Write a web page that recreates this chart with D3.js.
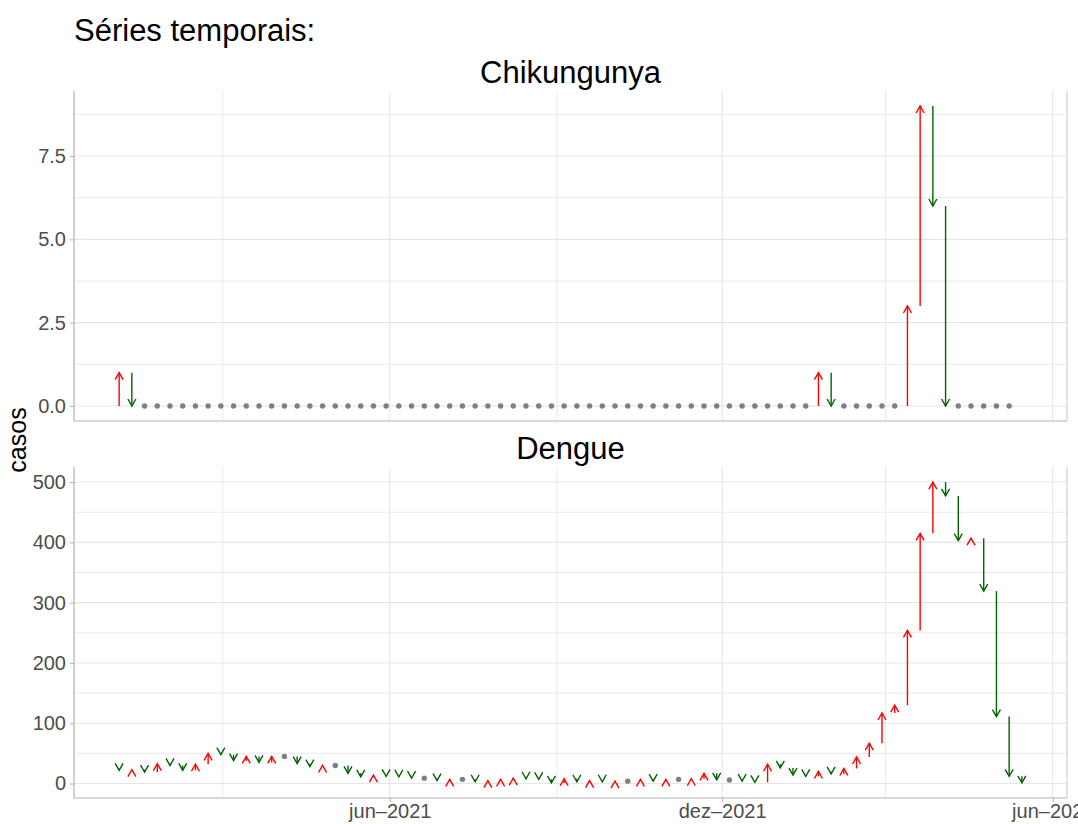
<!DOCTYPE html>
<html>
<head>
<meta charset="utf-8">
<script src="https://cdn.jsdelivr.net/npm/d3@7"></script>
<style>
body { margin: 0; background: #fff; }
text { font-family: "Liberation Sans", Arial, sans-serif; }
</style>
</head>
<body>
<div id="chart"></div>
<script>
// weekly series, first week starts 2021-01-03
var firstWeek = "2021-01-03";

// value of the week before the first plotted one, then one value per week
var chikPrev = 0;
var chikCases = [
  1, 0, 0, 0, 0, 0, 0, 0, 0, 0,
  0, 0, 0, 0, 0, 0, 0, 0, 0, 0,
  0, 0, 0, 0, 0, 0, 0, 0, 0, 0,
  0, 0, 0, 0, 0, 0, 0, 0, 0, 0,
  0, 0, 0, 0, 0, 0, 0, 0, 0, 0,
  0, 0, 0, 0, 0, 1, 0, 0, 0, 0,
  0, 0, 3, 9, 6, 0, 0, 0, 0, 0,
  0
];

var dengPrev = 25;
var dengCases = [
  22, 23, 19, 33, 30, 22, 32, 50, 48, 38,
  45, 35, 45, 45, 33, 28, 30, 30, 17, 11,
  14, 12, 11, 9, 9, 5, 7, 7, 3, 5,
  7, 9, 8, 7, 1, 8, 3, 5, 3, 4,
  4, 7, 4, 7, 7, 8, 17, 6, 6, 4,
  2, 32, 26, 14, 12, 20, 16, 25, 44, 67,
  117, 130, 254, 415, 500, 477, 403, 407, 319, 111,
  12, 1
];

var chikBreaks = [0, 2.5, 5, 7.5];
var dengBreaks = [0, 100, 200, 300, 400, 500];

var xBreaks = ["2021-06-01", "2021-12-01", "2022-06-01"];
var xMinorBreaks = ["2021-03-01", "2021-09-01", "2022-03-01"];
var monthsPt = ["jan", "fev", "mar", "abr", "mai", "jun", "jul", "ago", "set", "out", "nov", "dez"];

var W = 1078, H = 824;
var left = 74, right = 1067;
var upCol = "#FF0000", downCol = "#006400", sameCol = "#7F7F7F";
var gridCol = "#e5e5e5", axisCol = "#b3b3b3", tickTextCol = "#4d4d4d";
var tickFont = 20;

var parse = d3.timeParse("%Y-%m-%d");
var ptLocale = d3.timeFormatLocale({
  dateTime: "%d/%m/%Y %H:%M:%S", date: "%d/%m/%Y", time: "%H:%M:%S",
  periods: ["AM", "PM"],
  days: ["domingo","segunda","terça","quarta","quinta","sexta","sábado"],
  shortDays: ["dom","seg","ter","qua","qui","sex","sáb"],
  months: monthsPt, shortMonths: monthsPt
});
var fmtDate = ptLocale.format("%b–%Y");

function toRows(prev, values) {
  var start = parse(firstWeek);
  return values.map(function(v, i) {
    return {
      date: d3.timeDay.offset(start, 7 * i),
      from: i == 0 ? prev : values[i - 1],
      to: v
    };
  });
}

var facets = [
  {name: "Chikungunya", rows: toRows(chikPrev, chikCases), breaks: chikBreaks, fmt: d3.format(".1f"), top: 91, bottom: 421},
  {name: "Dengue", rows: toRows(dengPrev, dengCases), breaks: dengBreaks, fmt: d3.format("d"), top: 467, bottom: 798}
];

// shared x scale, expanded 5% like ggplot
var allDates = facets[0].rows.concat(facets[1].rows).map(function(d) { return d.date; });
var ext = d3.extent(allDates);
var pad = (ext[1] - ext[0]) * 0.05;
var x = d3.scaleTime()
  .domain([new Date(+ext[0] - pad), new Date(+ext[1] + pad)])
  .range([left, right]);

var svg = d3.select("#chart").append("svg")
  .attr("width", W).attr("height", H);

svg.append("text")
  .attr("x", 74).attr("y", 41)
  .attr("font-size", 31).attr("fill", "#000")
  .text("Séries temporais:");

svg.append("text")
  .attr("transform", "translate(26,440) rotate(-90)")
  .attr("text-anchor", "middle")
  .attr("font-size", 25).attr("fill", "#000")
  .text("casos");

facets.forEach(function(f, k) {
  var vals = [];
  f.rows.forEach(function(d) { vals.push(d.from, d.to); });
  var yext = d3.extent(vals);
  var ypad = (yext[1] - yext[0]) * 0.05;
  var y = d3.scaleLinear()
    .domain([yext[0] - ypad, yext[1] + ypad])
    .range([f.bottom, f.top]);

  var step = f.breaks[1] - f.breaks[0];
  var minor = [];
  for (var i = -1; i < f.breaks.length; i++) {
    var m = f.breaks[0] + step * (i + 0.5);
    if (m >= y.domain()[0] && m <= y.domain()[1]) minor.push(m);
  }

  var g = svg.append("g");

  // grid
  g.selectAll(".ymin").data(minor).enter().append("line")
    .attr("x1", left).attr("x2", right)
    .attr("y1", y).attr("y2", y)
    .attr("stroke", gridCol).attr("stroke-width", 0.8);
  g.selectAll(".xmin").data(xMinorBreaks.map(parse)).enter().append("line")
    .attr("x1", x).attr("x2", x)
    .attr("y1", f.top).attr("y2", f.bottom)
    .attr("stroke", gridCol).attr("stroke-width", 0.8);
  g.selectAll(".ymaj").data(f.breaks).enter().append("line")
    .attr("x1", left).attr("x2", right)
    .attr("y1", y).attr("y2", y)
    .attr("stroke", gridCol).attr("stroke-width", 1.1);
  g.selectAll(".xmaj").data(xBreaks.map(parse)).enter().append("line")
    .attr("x1", x).attr("x2", x)
    .attr("y1", f.top).attr("y2", f.bottom)
    .attr("stroke", gridCol).attr("stroke-width", 1.1);

  // y axis
  var yAxis = d3.axisLeft(y).tickValues(f.breaks).tickFormat(f.fmt)
    .tickSize(4).tickPadding(4);
  var ya = g.append("g").attr("transform", "translate(" + left + ",0)").call(yAxis);
  ya.select(".domain").remove();
  ya.selectAll(".tick line").attr("stroke", axisCol);
  ya.selectAll(".tick text").attr("fill", tickTextCol).attr("font-size", tickFont)
    .attr("font-family", "Liberation Sans, Arial, sans-serif");

  // axis lines: left, bottom, and the faint right edge
  g.append("line").attr("x1", left).attr("x2", left)
    .attr("y1", f.top).attr("y2", f.bottom)
    .attr("stroke", axisCol).attr("stroke-width", 1.2);
  g.append("line").attr("x1", right).attr("x2", right)
    .attr("y1", f.top).attr("y2", f.bottom)
    .attr("stroke", "#d0d0d0").attr("stroke-width", 1.2);
  g.append("line").attr("x1", left).attr("x2", right)
    .attr("y1", f.bottom).attr("y2", f.bottom)
    .attr("stroke", axisCol).attr("stroke-width", 1.2);

  if (k == 1) {
    var xAxis = d3.axisBottom(x).tickValues(xBreaks.map(parse)).tickFormat(fmtDate)
      .tickSize(4).tickPadding(2);
    var xa = g.append("g").attr("transform", "translate(0," + f.bottom + ")").call(xAxis);
    xa.select(".domain").remove();
    xa.selectAll(".tick line").attr("stroke", axisCol);
    xa.selectAll(".tick text").attr("fill", tickTextCol).attr("font-size", tickFont)
      .attr("font-family", "Liberation Sans, Arial, sans-serif");
  }

  // strip
  svg.append("text")
    .attr("x", (left + right) / 2).attr("y", f.top - 8)
    .attr("text-anchor", "middle")
    .attr("font-size", 31).attr("fill", "#000")
    .text(f.name);

  // marks
  var same = f.rows.filter(function(d) { return d.from == d.to; });
  var moved = f.rows.filter(function(d) { return d.from != d.to; });

  g.selectAll(".dot").data(same).enter().append("circle")
    .attr("cx", function(d) { return x(d.date); })
    .attr("cy", function(d) { return y(d.to); })
    .attr("r", 2.7)
    .attr("fill", sameCol);

  var arr = g.selectAll(".arr").data(moved).enter().append("g")
    .attr("stroke", function(d) { return d.to > d.from ? upCol : downCol; })
    .attr("stroke-width", 1.4)
    .attr("fill", "none");
  arr.append("line")
    .attr("x1", function(d) { return x(d.date); })
    .attr("x2", function(d) { return x(d.date); })
    .attr("y1", function(d) { return y(d.from); })
    .attr("y2", function(d) { return y(d.to); });
  arr.append("path")
    .attr("d", function(d) {
      var cx = x(d.date), ty = y(d.to);
      var dir = d.to > d.from ? 1 : -1;
      return "M" + (cx - 4) + "," + (ty + dir * 7) + "L" + cx + "," + ty + "L" + (cx + 4) + "," + (ty + dir * 7);
    });
});
</script>
</body>
</html>
